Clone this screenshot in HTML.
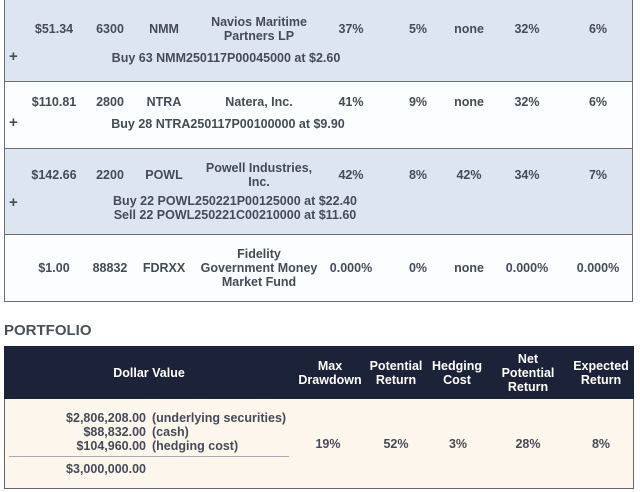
<!DOCTYPE html>
<html><head><meta charset="utf-8"><style>
body{margin:0;width:640px;height:492px;background:#fff;position:relative;overflow:hidden;font-family:"Liberation Sans",Arial,sans-serif;font-size:12.5px;font-weight:bold;color:#454b57}
.r{position:absolute;left:4px;width:629px;border:1px solid #6b6f75;box-sizing:border-box}
.c{position:absolute;width:120px;text-align:center;line-height:14px}
.p{position:absolute;left:9px;font-size:15px}
.a{position:absolute;left:20px;width:126px;text-align:right}
.l{position:absolute;left:152px}
</style></head><body>
<div class="r" style="top:-1px;height:83px;background:#dde6f0"></div>
<div class="r" style="top:81px;height:68px;background:#fcfdfe"></div>
<div class="r" style="top:148px;height:87px;background:#dde6f0"></div>
<div class="r" style="top:234px;height:68px;background:#fcfdfe"></div>

<div class="c" style="left:-6px;top:22px">$51.34</div>
<div class="c" style="left:50px;top:22px">6300</div>
<div class="c" style="left:104px;top:22px">NMM</div>
<div class="c" style="left:194px;top:15px;width:130px">Navios Maritime<br>Partners LP</div>
<div class="c" style="left:291px;top:22px">37%</div>
<div class="c" style="left:358px;top:22px">5%</div>
<div class="c" style="left:409px;top:22px">none</div>
<div class="c" style="left:467px;top:22px">32%</div>
<div class="c" style="left:538px;top:22px">6%</div>
<div class="p" style="top:48px">+</div>
<div class="c" style="left:81px;top:51px;width:290px">Buy 63 NMM250117P00045000 at $2.60</div>

<div class="c" style="left:-6px;top:95px">$110.81</div>
<div class="c" style="left:50px;top:95px">2800</div>
<div class="c" style="left:104px;top:95px">NTRA</div>
<div class="c" style="left:194px;top:95px;width:130px">Natera, Inc.</div>
<div class="c" style="left:291px;top:95px">41%</div>
<div class="c" style="left:358px;top:95px">9%</div>
<div class="c" style="left:409px;top:95px">none</div>
<div class="c" style="left:467px;top:95px">32%</div>
<div class="c" style="left:538px;top:95px">6%</div>
<div class="p" style="top:114px">+</div>
<div class="c" style="left:83px;top:117px;width:290px">Buy 28 NTRA250117P00100000 at $9.90</div>

<div class="c" style="left:-6px;top:168px">$142.66</div>
<div class="c" style="left:50px;top:168px">2200</div>
<div class="c" style="left:104px;top:168px">POWL</div>
<div class="c" style="left:194px;top:161px;width:130px">Powell Industries,<br>Inc.</div>
<div class="c" style="left:291px;top:168px">42%</div>
<div class="c" style="left:358px;top:168px">8%</div>
<div class="c" style="left:409px;top:168px">42%</div>
<div class="c" style="left:467px;top:168px">34%</div>
<div class="c" style="left:538px;top:168px">7%</div>
<div class="p" style="top:194px">+</div>
<div class="c" style="left:90px;top:194px;width:290px">Buy 22 POWL250221P00125000 at $22.40<br>Sell 22 POWL250221C00210000 at $11.60</div>

<div class="c" style="left:-6px;top:261px">$1.00</div>
<div class="c" style="left:50px;top:261px">88832</div>
<div class="c" style="left:104px;top:261px">FDRXX</div>
<div class="c" style="left:194px;top:247px;width:130px">Fidelity<br>Government Money<br>Market Fund</div>
<div class="c" style="left:291px;top:261px">0.000%</div>
<div class="c" style="left:358px;top:261px">0%</div>
<div class="c" style="left:409px;top:261px">none</div>
<div class="c" style="left:467px;top:261px">0.000%</div>
<div class="c" style="left:538px;top:261px">0.000%</div>

<div style="position:absolute;left:4px;top:322px;font-size:15px;color:#4a4f58">PORTFOLIO</div>
<div style="position:absolute;left:4px;top:346px;width:630px;height:143px;border:1px solid #666;box-sizing:border-box;background:#fdf6ed"></div>
<div style="position:absolute;left:4px;top:346px;width:630px;height:53px;background:#1c2338"></div>
<div style="color:#fff">
<div class="c" style="left:89px;top:366px">Dollar Value</div>
<div class="c" style="left:270px;top:359px">Max<br>Drawdown</div>
<div class="c" style="left:336px;top:359px">Potential<br>Return</div>
<div class="c" style="left:397px;top:359px">Hedging<br>Cost</div>
<div class="c" style="left:468px;top:352px">Net<br>Potential<br>Return</div>
<div class="c" style="left:541px;top:359px">Expected<br>Return</div>
</div>
<div class="a" style="top:411px">$2,806,208.00</div><div class="l" style="top:411px">(underlying securities)</div>
<div class="a" style="top:425px">$88,832.00</div><div class="l" style="top:425px">(cash)</div>
<div class="a" style="top:439px">$104,960.00</div><div class="l" style="top:439px">(hedging cost)</div>
<div style="position:absolute;left:9px;top:456px;width:280px;height:1px;background:#aaa"></div>
<div class="a" style="top:462px">$3,000,000.00</div>
<div class="c" style="left:268px;top:437px">19%</div>
<div class="c" style="left:336px;top:437px">52%</div>
<div class="c" style="left:398px;top:437px">3%</div>
<div class="c" style="left:468px;top:437px">28%</div>
<div class="c" style="left:541px;top:437px">8%</div>
</body></html>
